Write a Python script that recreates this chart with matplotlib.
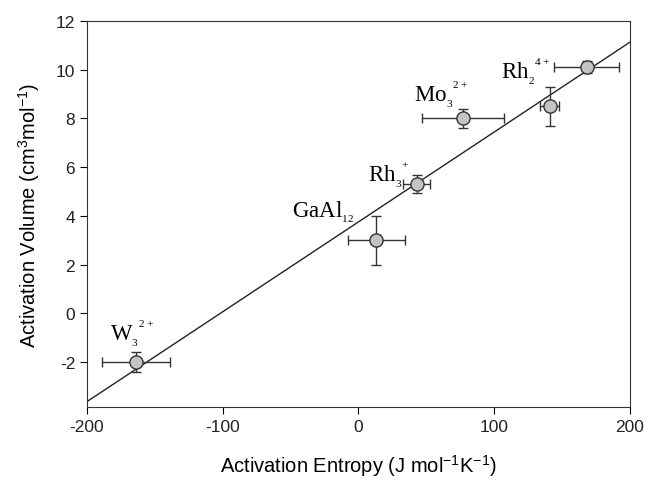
import numpy as np
from matplotlib import pyplot as plt

plt.rcParams['axes.unicode_minus'] = False
plt.rcParams['mathtext.fontset'] = 'custom'
plt.rcParams['mathtext.rm'] = 'Liberation Serif'
plt.rcParams['mathtext.it'] = 'Liberation Serif:italic'
plt.rcParams['mathtext.sf'] = 'Liberation Sans'

# values
entropy = [-164, 13, 43, 77, 141, 168]
volume = [-2.0, 3.0, 5.3, 8.0, 8.5, 10.1]
entropy_err = [25, 21, 10, 30, 7, 24]
volume_err = [0.4, 1.0, 0.38, 0.4, 0.8, 0.25]

labels = ['W$_{_3}$$^{^{2+}}$', 'GaAl$_{_{12}}$', 'Rh$_{_3}$$^{^{+}}$', 'Mo$_{_3}$$^{^{2+}}$', 'Rh$_{_2}$$^{^{4+}}$']
label_x = [-183, -49, 7, 41, 105]
label_y = [-1.1, 3.96, 5.4, 8.7, 9.65]

fit_slope = 0.0369
fit_intercept = 3.75

fig = plt.figure(figsize=(6.53, 4.85), dpi=100)
ax = fig.add_axes([0.1332, 0.1588, 0.8315, 0.7959])

xs = np.array([-200, 200])
ax.plot(xs, fit_slope * xs + fit_intercept, color='#222222', lw=1.0, zorder=1)

ax.errorbar(entropy, volume, xerr=entropy_err, yerr=volume_err, fmt='o',
            ms=9.5, mfc='#c4c4c4', mec='#333333', mew=1.0,
            ecolor='#333333', elinewidth=1.0, capsize=3.5, capthick=1.0, zorder=2)

for txt, lx, ly in zip(labels, label_x, label_y):
    ax.text(lx, ly, txt, family='Liberation Serif', fontsize=16.5, ha='left', va='baseline')

ax.set_xlim(-200, 200)
ax.set_ylim(-3.85, 12)
ax.set_xticks([-200, -100, 0, 100, 200])
ax.set_yticks(range(-2, 13, 2))
ax.tick_params(direction='out', length=5, labelsize=12.5, top=False, right=False)
for lab in ax.get_xticklabels() + ax.get_yticklabels():
    lab.set_family('Liberation Sans')
    lab.set_color('#222222')
for sp in ax.spines.values():
    sp.set_color('#333333')

ax.set_xlabel('Activation Entropy (J mol$^{\\mathsf{-1}}$K$^{\\mathsf{-1}}$)', family='Liberation Sans',
              fontsize=14.5, labelpad=14)
ax.set_ylabel('Activation Volume (cm$^{\\mathsf{3}}$mol$^{\\mathsf{-1}}$)', family='Liberation Sans',
              fontsize=14.5, labelpad=10)

fig.savefig('out.png', dpi=100)
